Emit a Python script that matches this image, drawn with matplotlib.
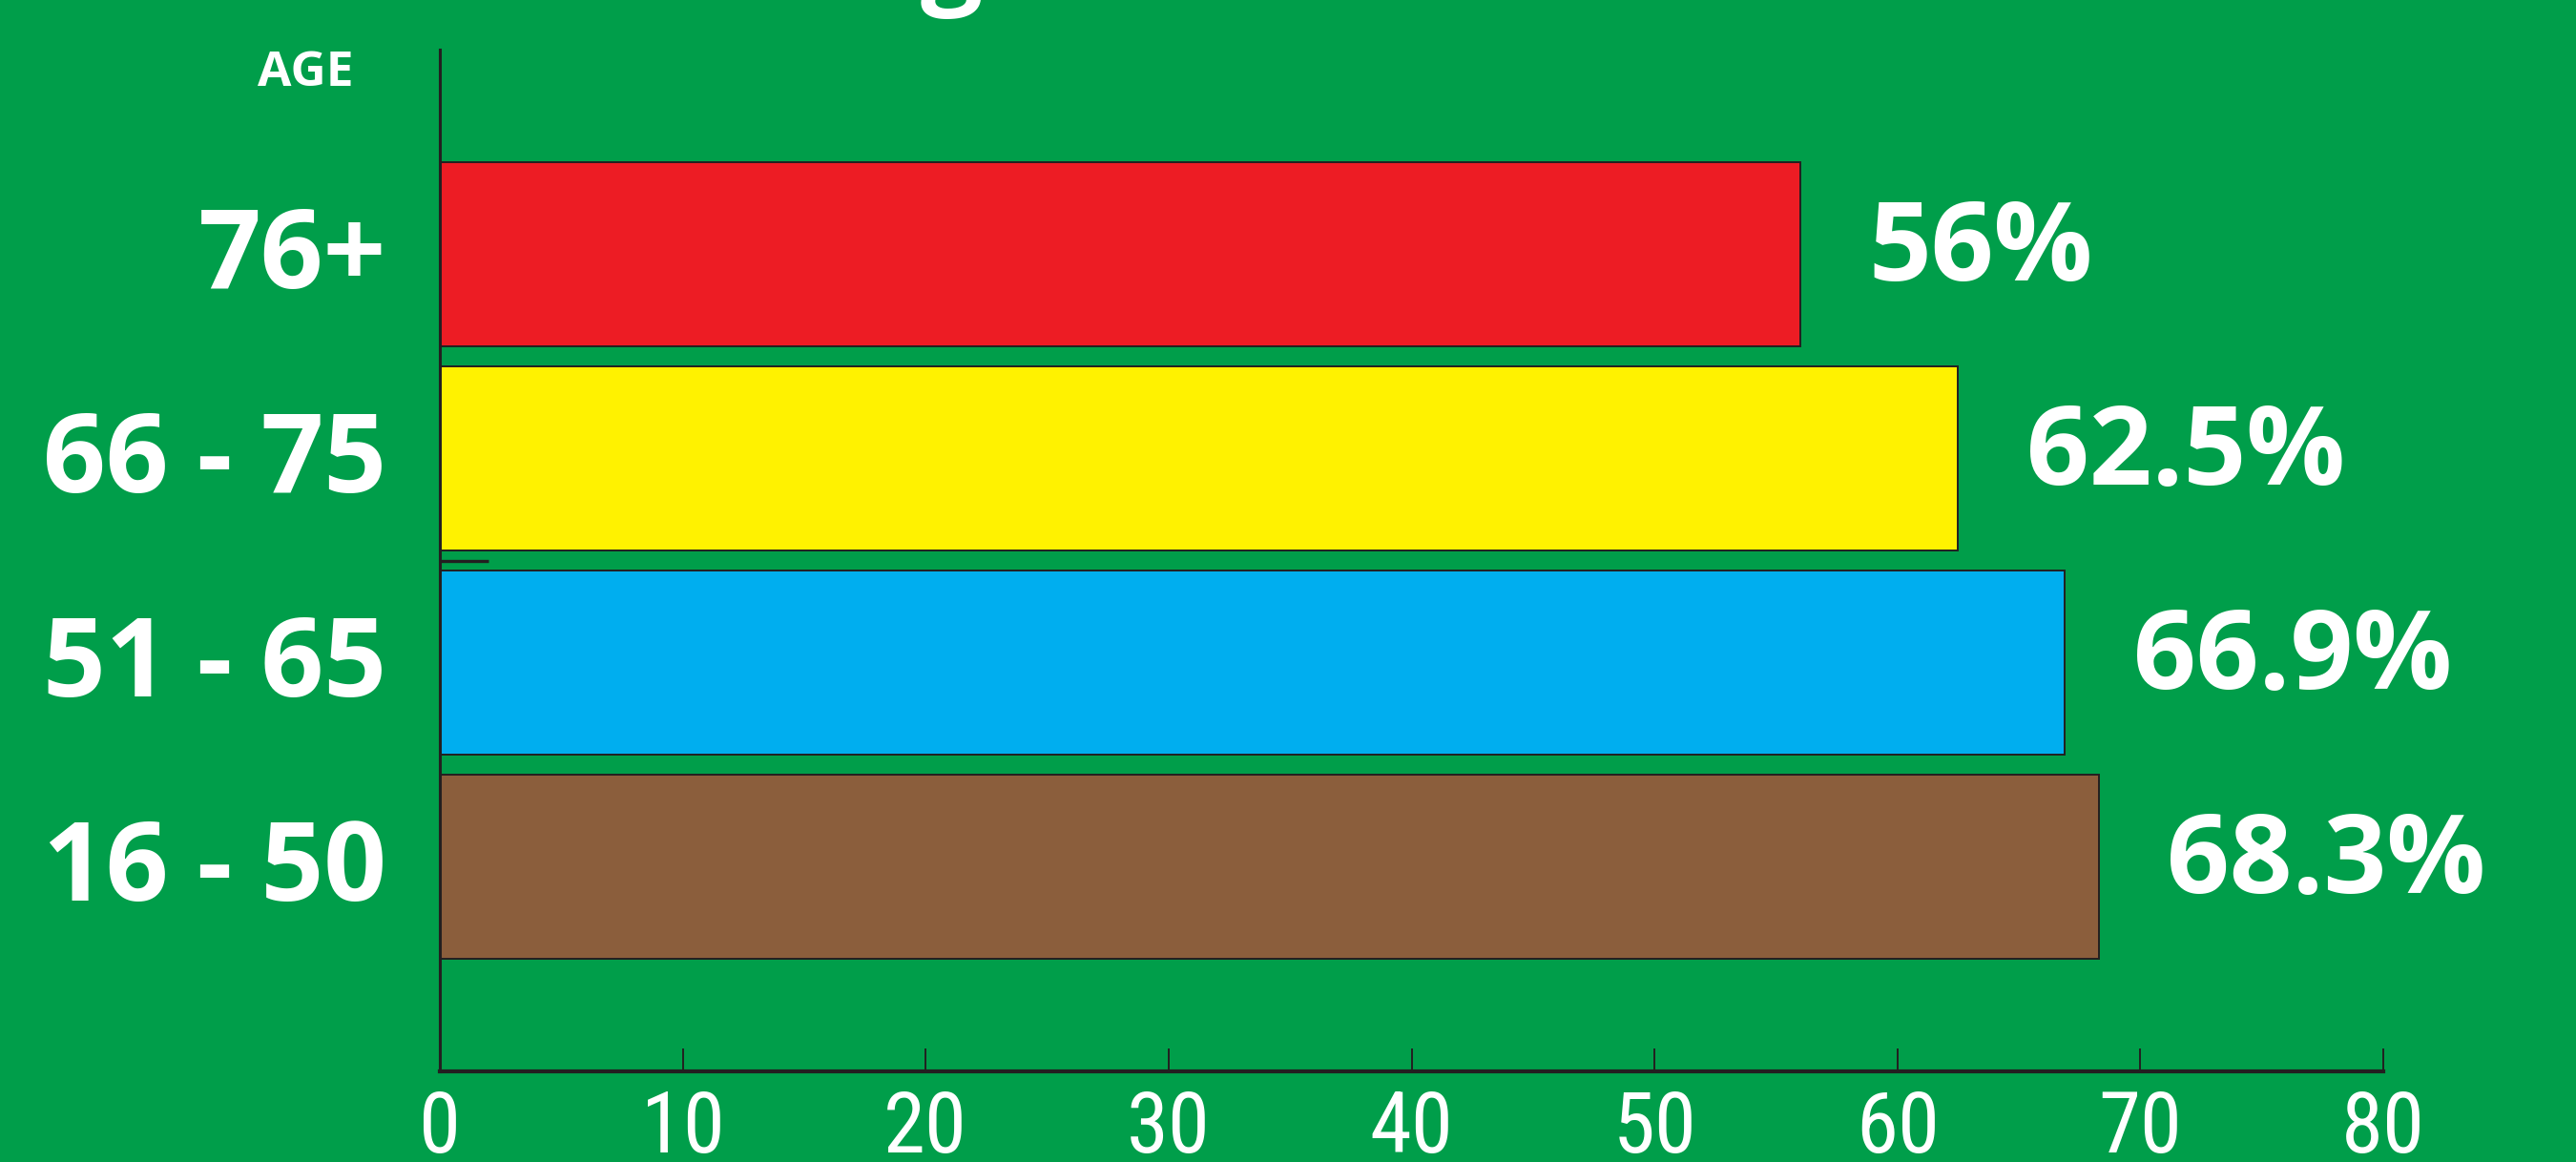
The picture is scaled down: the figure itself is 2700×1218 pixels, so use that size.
import matplotlib
matplotlib.use("Agg")
import matplotlib.pyplot as plt
from matplotlib import font_manager
from matplotlib.transforms import offset_copy, ScaledTranslation

# data, bottom bar first
ages = ['16 - 50', '51 - 65', '66 - 75', '76+']
turnout = [68.3, 66.9, 62.5, 56]
bar_colors = ['#8B5E3C', '#00AEEF', '#FFF200', '#ED1C24']
x_ticks = [0, 10, 20, 30, 40, 50, 60, 70, 80]

green = '#009E4A'
ink = '#231F20'

# narrow font for the axis numbers if there is one
installed = {f.name for f in font_manager.fontManager.ttflist}
narrow = 'Open Sans'
for name in ['Liberation Sans Narrow', 'DejaVu Sans Condensed', 'Roboto Condensed']:
    if name in installed:
        narrow = name
        break

fig = plt.figure(figsize=(27, 12.18), dpi=100, facecolor=green)
ax = fig.add_axes([461/2700, 1 - 1123/1218, (2498 - 461)/2700, (1123 - 52)/1218])
ax.set_facecolor(green)

pos = list(range(len(ages)))
ax.barh(pos, turnout, height=0.9, color=bar_colors, edgecolor=ink, linewidth=1.4, zorder=2)

# percentages sit a little above the bar middles
lift = offset_copy(ax.transData, fig=fig, y=16, units='dots')
for p, v in zip(pos, turnout):
    ax.text(v + 2.8, p, f"{v:g}%", ha='left', va='center_baseline', color='white',
            fontsize=83, fontweight='bold', family='Open Sans', transform=lift)

ax.set_xlim(0, 80)
ax.set_ylim(-1, 4)

ax.set_xticks(x_ticks)
ax.set_xticklabels([str(t) for t in x_ticks], family=narrow, fontsize=64, color='white')
ax.tick_params(axis='x', direction='in', length=17, width=1.4, color=ink, pad=13)

ax.set_yticks(pos)
ax.set_yticklabels(ages, family='Open Sans', fontweight='bold', fontsize=83, color='white')
ax.tick_params(axis='y', which='major', length=0, pad=40)
ax.set_yticks([1.5], minor=True)
ax.tick_params(axis='y', which='minor', direction='in', length=37, width=2.4, color=ink)

for lab in ax.get_yticklabels():
    lab.set_transform(lab.get_transform() + ScaledTranslation(0, 8/100, fig.dpi_scale_trans))

for s in ['top', 'right']:
    ax.spines[s].set_visible(False)
ax.spines['left'].set_color(ink)
ax.spines['left'].set_linewidth(2.2)
ax.spines['bottom'].set_color(ink)
ax.spines['bottom'].set_linewidth(3)
ax.spines['left'].set_zorder(3)

fig.text(320/2700, 1 - 90/1218, 'AGE', ha='center', va='baseline', color='white',
         fontsize=37, fontweight='bold', family='Open Sans')
# bottom of the title, cut off by the top edge
fig.text(997/2700, 1 + 8/1218, 'g', ha='center', va='baseline', color='white',
         fontsize=83, fontweight='bold', family='Open Sans')

plt.savefig('out.png', dpi=100, facecolor=green)
